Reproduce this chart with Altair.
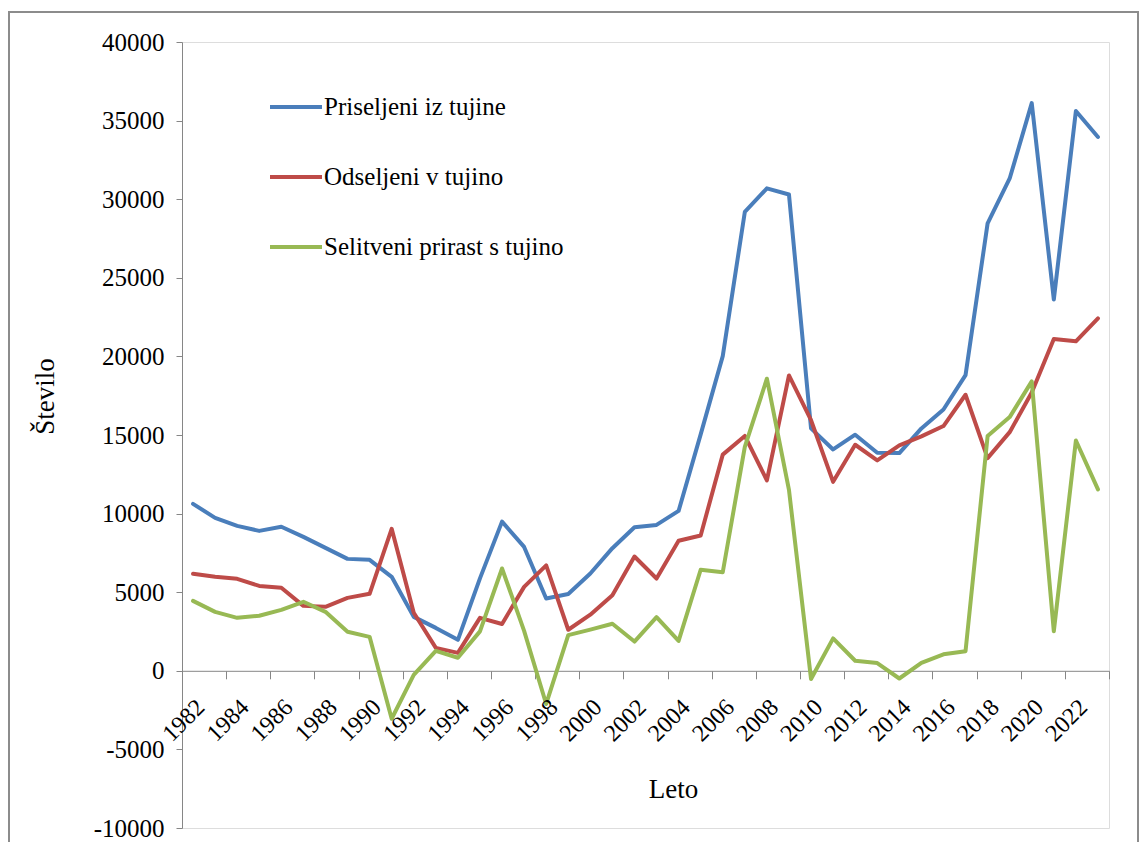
import altair as alt
import pandas as pd

years = list(range(1982, 2024))

priseljeni = [10620, 9730, 9220, 8900, 9160, 8520, 7820, 7120, 7060, 5980,
              3430, 2730, 1970, 5880, 9490, 7880, 4600, 4880, 6190, 7800,
              9130, 9280, 10170, 15040, 20020, 29190, 30690, 30300, 15420, 14080,
              15020, 13870, 13850, 15420, 16620, 18810, 28460, 31320, 36110, 23620,
              35610, 33960]

odseljeni = [6170, 5980, 5850, 5400, 5280, 4130, 4070, 4640, 4900, 9030,
             3690, 1460, 1140, 3370, 2980, 5340, 6710, 2610, 3570, 4810,
             7270, 5870, 8270, 8610, 13750, 14940, 12110, 18790, 15940, 12020,
             14380, 13380, 14340, 14910, 15570, 17560, 13530, 15180, 17700, 21110,
             20960, 22420]

prirast = [4450, 3750, 3370, 3500, 3880, 4390, 3750, 2480, 2160, -3050,
           -260, 1270, 830, 2510, 6510, 2540, -2110, 2270, 2620, 2990,
           1860, 3410, 1900, 6430, 6270, 14250, 18580, 11510, -520, 2060,
           640, 490, -490, 510, 1050, 1250, 14930, 16140, 18410, 2510,
           14650, 11540]

series_names = ["Priseljeni iz tujine", "Odseljeni v tujino", "Selitveni prirast s tujino"]
series_colors = ["#4A7EBB", "#BE4B48", "#98B954"]

label_years = list(range(1982, 2023, 2))
tick_positions = [y - 0.5 for y in range(1982, 2025)]
y_ticks = list(range(-10000, 40001, 5000))

rows = []
for name, vals in zip(series_names, [priseljeni, odseljeni, prirast]):
    for yr, v in zip(years, vals):
        rows.append({"Leto": yr, "Vrednost": v, "Serija": name})
df = pd.DataFrame(rows)
labels_df = pd.DataFrame({"Leto": label_years, "txt": [str(y) for y in label_years]})

FONT = "Liberation Serif"
W, H = 927, 786
AXIS_GRAY = "#868686"

x_scale = alt.Scale(domain=[1981.5, 2023.5], nice=False, zero=False)
y_scale = alt.Scale(domain=[-10000, 40000], nice=False)

lines = alt.Chart(df).mark_line(strokeWidth=4, strokeCap="round", strokeJoin="round").encode(
    x=alt.X("Leto:Q", scale=x_scale,
            axis=alt.Axis(values=tick_positions, labels=False, grid=False,
                          tickSize=8, tickColor=AXIS_GRAY, domainColor=AXIS_GRAY,
                          offset=-H * 10000 / 50000,
                          title="Leto", titleFont=FONT, titleFontSize=27,
                          titleFontWeight="normal", titleColor="black",
                          titleX=491, titleY=119, titleBaseline="middle",
                          titleAlign="center")),
    y=alt.Y("Vrednost:Q", scale=y_scale,
            axis=alt.Axis(values=y_ticks, grid=False, tickSize=6,
                          tickColor=AXIS_GRAY, domainColor=AXIS_GRAY,
                          labelFont=FONT, labelFontSize=25, labelColor="black",
                          labelPadding=12, labelExpr="'' + datum.value",
                          title="Število", titleFont=FONT, titleFontSize=27,
                          titleFontWeight="normal", titleColor="black",
                          titleX=-137, titleY=354, titleAngle=270,
                          titleBaseline="middle", titleAlign="center")),
    color=alt.Color("Serija:N",
                    scale=alt.Scale(domain=series_names, range=series_colors),
                    legend=alt.Legend(title=None, orient="none", legendX=86, legendY=37,
                                      symbolType="stroke", symbolSize=2704,
                                      symbolStrokeWidth=4, labelFont=FONT,
                                      labelFontSize=25, labelColor="black",
                                      labelOffset=0, rowPadding=29, padding=0,
                                      labelLimit=400)),
)

xlabels = alt.Chart(labels_df).mark_text(
    angle=315, align="right", baseline="middle", font=FONT, fontSize=24,
    color="black", xOffset=8, yOffset=33
).encode(
    x=alt.X("Leto:Q", scale=x_scale),
    y=alt.datum(0),
    text="txt:N",
)

frame = alt.Chart(pd.DataFrame({"a": [0]})).mark_rect(
    filled=False, stroke="#8c8c8c", strokeWidth=2
).encode(
    x=alt.value(-173), x2=alt.value(956), y=alt.value(-30), y2=alt.value(840)
)

chart = alt.layer(frame, lines, xlabels).properties(
    width=W, height=H,
    autosize=alt.AutoSizeParams(type="none"),
    padding={"left": 174, "top": 34, "right": 30, "bottom": 14},
).configure_view(stroke=None).configure(background="white")

chart.save("out.html", embed_options={"renderer": "svg", "actions": False})
